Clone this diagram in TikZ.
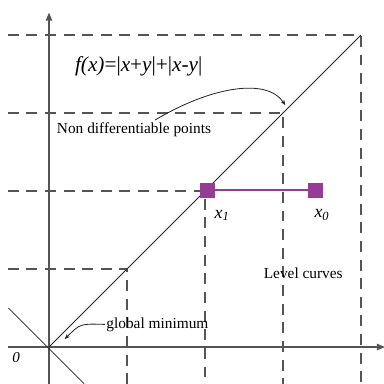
\documentclass[tikz,border=0pt]{standalone}
\usepackage{fontspec}
\setmainfont{Liberation Serif}
\usepackage{tikz}
\usetikzlibrary{arrows.meta,positioning}
\definecolor{stepviolet}{RGB}{150,60,150}
\definecolor{axisgray}{RGB}{85,85,85}

\begin{document}
\begin{tikzpicture}[
    x=2cm, y=2cm,
    axis/.style={draw=axisgray, line width=1.3pt, -{Triangle[length=6pt, width=4.5pt]}},
    levelline/.style={draw=axisgray, line width=0.8pt, dash pattern=on 8pt off 5.6pt},
    kink/.style={draw=black!85, line width=0.6pt},
    iterate/.style={draw=none, fill=stepviolet, minimum size=11pt, inner sep=0pt},
    note/.style={font=\fontsize{11.2}{13}\selectfont, inner sep=1pt},
    pointer/.style={draw=black!85, line width=0.6pt, -{Stealth[length=4pt, width=3pt]}},
]
\useasboundingbox (-0.628,-0.4615) rectangle (4.295,4.449);
% level curves
\foreach \k in {1,...,4}
    \draw[levelline] (-0.53,\k) -- (\k,\k) -- (\k,-0.47);
% axes
\draw[axis] (-0.53,0) -- (4.31,0);
\draw[axis] (0,-0.47) -- (0,4.29);
% kinks of f
\coordinate (origin) at (0,0);
\draw[kink] (origin) -- (4,4);
\draw[kink] (-0.52,0.5) -- (0.45,-0.47);
% iterates
\node[iterate] (x1) at (2.03,2.01) {};
\node[iterate] (x0) at (3.42,2.01) {};
\draw[stepviolet, line width=1.4pt] (x1) -- (x0);
\node[note, font=\fontsize{13}{15}\selectfont] (x1label) at (2.22,1.69) {\textit{x\textsubscript{1}}};
\node[note, font=\fontsize{13}{15}\selectfont] (x0label) at (3.50,1.69) {\textit{x\textsubscript{0}}};
% labels
\node[note, font=\fontsize{15.5}{18}\selectfont] (formula) at (1.15,3.60)
    {\textit{f(x)}=|\textit{x}+\textit{y}|+|\textit{x-y}|};
\node[note] (nondiff) at (1.09,2.78) {Non differentiable points};
\node[note] (level) at (3.26,0.94) {Level curves};
\node[note] (globmin) at (1.39,0.29) {global minimum};
\node[note, font=\fontsize{11}{13}\selectfont] (zero) at (-0.42,-0.14) {\textit{0}};
% pointers
\coordinate (kinkpt) at (3.03,3.10);
\coordinate (minpt) at (0.20,0.10);
\draw[pointer] (1.36,2.91) .. controls (2.1,3.35) and (2.8,3.45) .. (kinkpt);
\draw[pointer] (globmin.west) .. controls (0.4,0.30) .. (minpt);
\end{tikzpicture}
\end{document}
